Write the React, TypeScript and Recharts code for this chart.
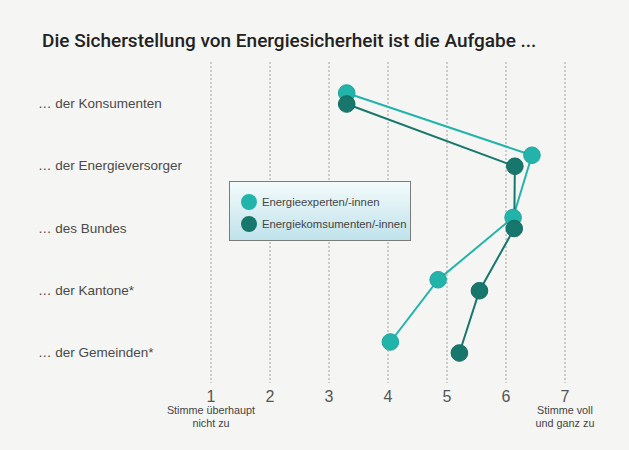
import { LineChart, Line, XAxis, YAxis, CartesianGrid, Legend } from "recharts";

const categories = [
  "… der Konsumenten",
  "… der Energieversorger",
  "… des Bundes",
  "… der Kantone*",
  "… der Gemeinden*",
];
const experts = [3.3, 6.44, 6.12, 4.85, 4.04];
const consumers = [3.3, 6.15, 6.14, 5.55, 5.21];
const scaleTicks = [1, 2, 3, 4, 5, 6, 7];

const EXPERT_COLOR = "#22b4ab";
const CONSUMER_COLOR = "#17776c";
const FONT = "'Liberation Sans', Arial, sans-serif";

const data = categories.map((name, i) => ({
  name,
  experts: experts[i],
  consumers: consumers[i],
}));

function CategoryTick(props: any) {
  const { y, payload } = props;
  return (
    <text x={38} y={y} dy={5} fontSize={13.5} fill="#4a4a4a" fontFamily={FONT} textAnchor="start">
      {payload.value}
    </text>
  );
}

function ScaleTick(props: any) {
  const { x, payload } = props;
  const v = payload.value;
  const sub =
    v === 1 ? ["Stimme überhaupt", "nicht zu"] : v === 7 ? ["Stimme voll", "und ganz zu"] : null;
  return (
    <g>
      <text x={x} y={402} fontSize={16} fill="#555" fontFamily={FONT} textAnchor="middle">
        {v}
      </text>
      {sub &&
        sub.map((s, i) => (
          <text key={s} x={x} y={414 + i * 13} fontSize={10.8} fill="#444" fontFamily={FONT} textAnchor="middle">
            {s}
          </text>
        ))}
    </g>
  );
}

function LegendBox() {
  const items = [
    { label: "Energieexperten/-innen", color: EXPERT_COLOR },
    { label: "Energiekomsumenten/-innen", color: CONSUMER_COLOR },
  ];
  return (
    <div
      style={{
        width: 182,
        height: 60,
        boxSizing: "border-box",
        border: "1px solid #7b7b7b",
        background: "linear-gradient(#f4fbfc, #bfe2ea)",
        padding: "9px 0 0 11px",
        fontFamily: FONT,
      }}
    >
      {items.map((it) => (
        <div key={it.label} style={{ display: "flex", alignItems: "center", height: 22 }}>
          <span
            style={{
              width: 16,
              height: 16,
              borderRadius: "50%",
              background: it.color,
              display: "inline-block",
              marginRight: 5,
            }}
          />
          <span style={{ fontSize: 11.3, color: "#444" }}>{it.label}</span>
        </div>
      ))}
    </div>
  );
}

export default function App() {
  return (
    <div style={{ position: "absolute", left: 0, top: 0, width: 629, height: 450, background: "#f5f5f3" }}>
      <div
        style={{
          position: "absolute",
          left: 42,
          top: 29,
          fontFamily: "Roboto, sans-serif",
          fontSize: 19,
          fontWeight: 500,
          color: "#222",
          whiteSpace: "nowrap",
        }}
      >
        Die Sicherstellung von Energiesicherheit ist die Aufgabe ...
      </div>
      <LineChart
        width={629}
        height={450}
        data={data}
        layout="vertical"
        margin={{ top: 62, right: 64, bottom: 37, left: 131 }}
      >
        <CartesianGrid vertical horizontal={false} stroke="#a0a0a0" strokeDasharray="2 2" />
        <XAxis
          type="number"
          domain={[1, 7]}
          ticks={scaleTicks}
          axisLine={false}
          tickLine={false}
          tick={<ScaleTick />}
          interval={0}
          height={30}
        />
        <YAxis
          yAxisId="lab"
          type="category"
          dataKey="name"
          width={80}
          axisLine={false}
          tickLine={false}
          tick={<CategoryTick />}
          padding={{ top: 41, bottom: 31 }}
          interval={0}
        />
        <YAxis yAxisId="exp" type="category" dataKey="name" hide padding={{ top: 31, bottom: 41 }} />
        <YAxis yAxisId="con" type="category" dataKey="name" hide padding={{ top: 42, bottom: 30 }} />
        <Legend
          layout="vertical"
          align="center"
          verticalAlign="middle"
          content={<LegendBox />}
          wrapperStyle={{ left: 229, top: 181, width: 182 }}
        />
        <Line
          yAxisId="exp"
          dataKey="experts"
          stroke={EXPERT_COLOR}
          strokeWidth={2}
          dot={{ r: 8.3, fill: EXPERT_COLOR, stroke: "#1ea69d", strokeWidth: 1 }}
          activeDot={false}
          isAnimationActive={false}
        />
        <Line
          yAxisId="con"
          dataKey="consumers"
          stroke={CONSUMER_COLOR}
          strokeWidth={2}
          dot={{ r: 8.3, fill: CONSUMER_COLOR, stroke: "#136a60", strokeWidth: 1 }}
          activeDot={false}
          isAnimationActive={false}
        />
      </LineChart>
    </div>
  );
}
